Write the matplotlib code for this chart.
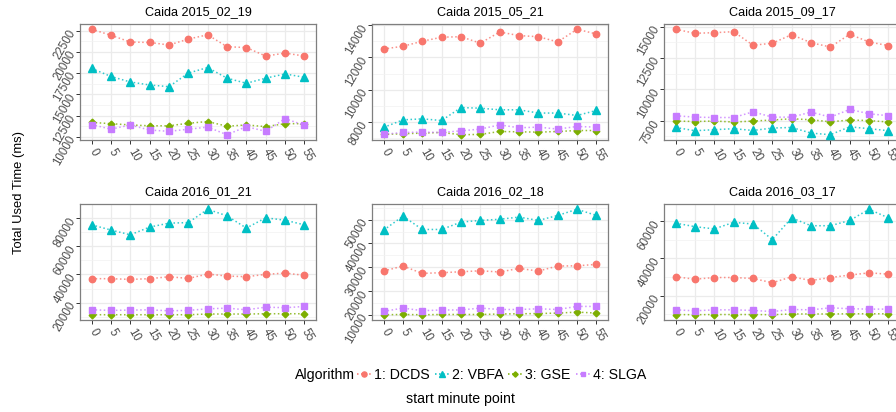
import matplotlib
matplotlib.use('Agg')
import matplotlib.pyplot as plt
from matplotlib.lines import Line2D
from matplotlib.ticker import FixedLocator

plt.rcParams['font.family'] = ['Liberation Sans', 'DejaVu Sans']

# x categories (start minute)
minutes = ['0', '5', '10', '15', '20', '25', '30', '35', '40', '45', '50', '55']
titles = ['Caida 2015_02_19', 'Caida 2015_05_21', 'Caida 2015_09_17',
          'Caida 2016_01_21', 'Caida 2016_02_18', 'Caida 2016_03_17']
algos = ['1: DCDS', '2: VBFA', '3: GSE', '4: SLGA']

# Caida 2015_02_19
p1_dcds = [22650, 21950, 21150, 21100, 20800, 21500, 22000, 20600, 20500, 19500, 19850, 19500]
p1_vbfa = [18050, 17100, 16450, 16100, 15900, 17500, 18150, 16900, 16300, 16900, 17400, 17000]
p1_gse = [11700, 11550, 11400, 11300, 11300, 11600, 11800, 11250, 11400, 11200, 11550, 11550]
p1_slga = [11450, 10900, 11400, 10800, 10650, 10900, 11150, 10250, 11200, 10650, 12150, 11350]
# Caida 2015_05_21
p2_dcds = [12520, 12690, 13000, 13250, 13280, 12880, 13570, 13350, 13280, 12960, 13740, 13450]
p2_vbfa = [7670, 8140, 8200, 8100, 8900, 8860, 8760, 8760, 8560, 8560, 8410, 8720]
p2_gse = [7240, 7280, 7320, 7360, 7220, 7240, 7420, 7400, 7380, 7420, 7480, 7480]
p2_slga = [7240, 7360, 7380, 7360, 7460, 7570, 7830, 7650, 7690, 7570, 7730, 7690]
# Caida 2015_09_17
p3_dcds = [14780, 14460, 14510, 14590, 13510, 13670, 14350, 13710, 13370, 14380, 13770, 13480]
p3_vbfa = [6970, 6710, 6790, 6870, 6730, 6920, 6970, 6520, 6390, 7020, 6870, 6710]
p3_gse = [7480, 7440, 7480, 7400, 7480, 7560, 7660, 7580, 7420, 7560, 7520, 7400]
p3_slga = [7900, 7790, 7760, 7760, 8210, 7790, 7790, 8190, 7790, 8400, 8060, 7900]
# Caida 2016_01_21
p4_dcds = [37000, 37000, 36500, 37000, 38400, 37200, 40300, 38900, 38400, 40100, 41000, 39400]
p4_vbfa = [75400, 71700, 68300, 73800, 76600, 77000, 86500, 81800, 73100, 80400, 78700, 75400]
p4_gse = [11300, 11300, 11300, 11300, 11300, 11300, 11800, 11800, 11800, 12000, 12000, 12000]
p4_slga = [14800, 14400, 14600, 14800, 14100, 14400, 15500, 16000, 14800, 16700, 16300, 17200]
# Caida 2016_02_18
p5_dcds = [28400, 30500, 27400, 27700, 28100, 28500, 28000, 29500, 28400, 30500, 30600, 31200]
p5_vbfa = [45600, 51500, 45900, 45900, 49000, 49700, 50200, 51100, 49700, 51800, 54400, 51800]
p5_gse = [10000, 10100, 10000, 10100, 10100, 10100, 10300, 10400, 10500, 10700, 11100, 10700]
p5_slga = [11400, 12800, 11700, 12000, 12000, 12800, 12200, 12200, 12500, 12200, 13500, 13500]
# Caida 2016_03_17
p6_dcds = [30100, 28800, 29700, 29700, 29200, 26900, 30100, 28100, 29700, 31000, 32200, 31500]
p6_vbfa = [58800, 56900, 55700, 59200, 58300, 50000, 61600, 57400, 57400, 60200, 66200, 61600]
p6_gse = [9900, 9800, 9900, 9900, 9900, 9800, 10200, 10200, 10200, 10300, 10300, 10300]
p6_slga = [12400, 11900, 12400, 12400, 12100, 11500, 12600, 12400, 13500, 13000, 12800, 12800]

yticks = [[10000, 12500, 15000, 17500, 20000, 22500],
          [8000, 10000, 12000, 14000],
          [7500, 10000, 12500, 15000],
          [20000, 40000, 60000, 80000],
          [10000, 20000, 30000, 40000, 50000],
          [20000, 40000, 60000]]

panels = [[p1_dcds, p1_vbfa, p1_gse, p1_slga],
          [p2_dcds, p2_vbfa, p2_gse, p2_slga],
          [p3_dcds, p3_vbfa, p3_gse, p3_slga],
          [p4_dcds, p4_vbfa, p4_gse, p4_slga],
          [p5_dcds, p5_vbfa, p5_gse, p5_slga],
          [p6_dcds, p6_vbfa, p6_gse, p6_slga]]

colors = ['#F8766D', '#00BFC4', '#7CAE00', '#C77CFF']
markers = ['o', '^', 'D', 's']
msizes = [4.6, 5.4, 3.4, 4.4]

W, H = 896, 412
fig = plt.figure(figsize=(W / 100, H / 100), dpi=100)


def box(l, t, w, h):
    return [l / W, 1 - (t + h) / H, w / W, h / H]


lefts = [80, 372, 664]
tops = [24, 204]
pw, ph = 236, 116
xs = list(range(len(minutes)))

for i in range(6):
    ax = fig.add_axes(box(lefts[i % 3], tops[i // 3], pw, ph))
    series = panels[i]
    for vals, c, m, ms in zip(series, colors, markers, msizes):
        ax.plot(xs, vals, ls=':', color=c, lw=1.1, alpha=0.8, zorder=2)
        ax.plot(xs, vals, ls='none', marker=m, ms=ms, color=c, zorder=3)
    lo = min(min(v) for v in series)
    hi = max(max(v) for v in series)
    pad = (hi - lo) * 0.05
    ax.set_ylim(lo - pad, hi + pad)
    ax.set_xlim(-0.6, len(minutes) - 0.4)

    yt = yticks[i]
    step = yt[1] - yt[0]
    ax.set_yticks(yt)
    ax.set_yticklabels([str(t) for t in yt], rotation=60, ha='right',
                       va='center', rotation_mode='anchor')
    ax.yaxis.set_minor_locator(FixedLocator([yt[0] - step / 2] + [t + step / 2 for t in yt]))
    ax.set_xticks(xs)
    ax.set_xticklabels(minutes, rotation=-60, ha='left', va='center',
                       rotation_mode='anchor')

    ax.grid(True, which='major', color='#ebebeb', lw=0.9, zorder=0)
    ax.grid(True, which='minor', axis='y', color='#f2f2f2', lw=0.5, zorder=0)
    ax.set_axisbelow(True)
    ax.tick_params(which='major', length=3, width=0.7, color='#333333',
                   labelsize=8.3, labelcolor='#4d4d4d')
    ax.tick_params(axis='x', pad=4)
    ax.tick_params(axis='y', pad=2)
    ax.tick_params(which='minor', length=0)
    for s in ax.spines.values():
        s.set_color('#7f7f7f')
        s.set_linewidth(0.9)

    ax.annotate(titles[i], xy=(0.5, 1), xycoords='axes fraction',
                xytext=(0, 8.6), textcoords='offset points',
                ha='center', va='center', fontsize=9.1)

fig.text(19 / W, 1 - 192.5 / H, 'Total Used Time (ms)', rotation=90,
         ha='center', va='center', fontsize=9.4)
fig.text(460 / W, 1 - 399 / H, 'start minute point', ha='center',
         va='center', fontsize=10.2)
fig.text(295 / W, 1 - 375 / H, 'Algorithm', ha='left', va='center',
         fontsize=10.2)

handles = [Line2D([0], [0], ls=':', lw=1.1, color=c, marker=m, ms=ms * 0.8)
           for c, m, ms in zip(colors, markers, msizes)]
fig.legend(handles, algos, loc='center left',
           bbox_to_anchor=(357 / W, 1 - 375 / H), ncol=4, frameon=False,
           handlelength=1.0, handletextpad=0.2, columnspacing=0.35,
           borderpad=0, borderaxespad=0, fontsize=10.2)

fig.savefig('out.png', dpi=100)
